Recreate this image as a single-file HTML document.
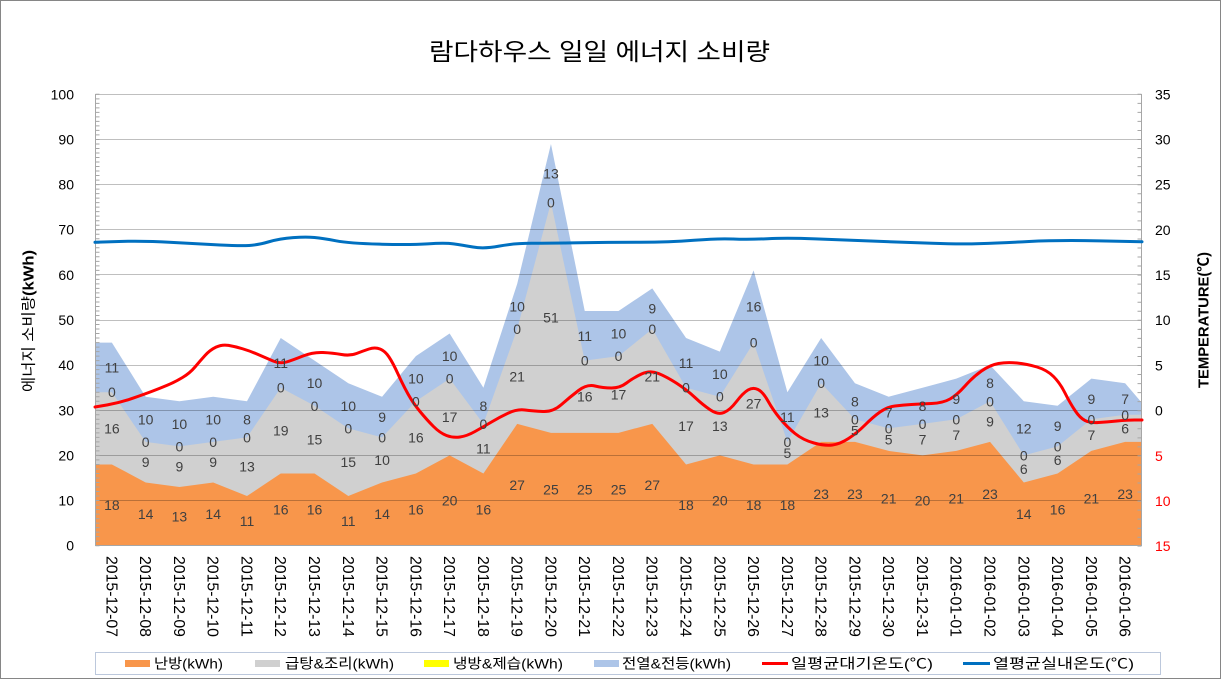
<!DOCTYPE html>
<html><head><meta charset="utf-8">
<style>
html,body{margin:0;padding:0;background:#fff;}
svg{display:block;}
text{font-family:"Liberation Sans","Noto Sans CJK KR",sans-serif;}
</style></head>
<body>
<svg width="1225" height="681" viewBox="0 0 1225 681" xmlns="http://www.w3.org/2000/svg">
<rect x="0" y="0" width="1225" height="681" fill="#fff"/>
<rect x="0.5" y="0.5" width="1220" height="678" fill="#fff" stroke="#868686" stroke-width="1"/>

<!-- title -->
<text x="429" y="60" font-size="24" fill="#000" textLength="341" lengthAdjust="spacingAndGlyphs">람다하우스 일일 에너지 소비량</text>

<!-- areas -->
<polygon fill="#adc5e8" points="95,545.7 95,342.57 111.89,342.57 145.66,396.74 179.44,401.25 213.21,396.74 246.99,401.25 280.76,338.06 314.54,360.63 348.31,383.20 382.09,396.74 415.86,356.11 449.64,333.54 483.41,387.71 517.19,283.89 550.96,143.95 584.74,311.00 618.51,311.00 652.29,288.40 686.06,338.06 719.84,351.60 753.61,270.35 787.39,392.22 821.16,338.06 854.94,383.20 888.71,396.74 922.49,387.71 956.26,378.68 990.04,365.14 1023.81,401.25 1057.59,405.77 1091.36,378.68 1125.14,383.20 1142,403 1142,545.7"/>
<polygon fill="#d0d0d0" points="95,545.7 95,392.22 111.89,392.22 145.66,441.88 179.44,446.39 213.21,441.88 246.99,437.36 280.76,387.71 314.54,405.77 348.31,428.34 382.09,437.36 415.86,401.25 449.64,378.68 483.41,423.82 517.19,329.03 550.96,202.64 584.74,360.63 618.51,356.11 652.29,329.03 686.06,387.71 719.84,396.74 753.61,342.57 787.39,441.88 821.16,383.20 854.94,419.31 888.71,428.34 922.49,423.82 956.26,419.31 990.04,401.25 1023.81,455.42 1057.59,446.39 1091.36,419.31 1125.14,414.79 1142,414.79 1142,545.7"/>
<polygon fill="#f8964b" points="95,545.7 95,464.45 111.89,464.45 145.66,482.50 179.44,487.02 213.21,482.50 246.99,496.05 280.76,473.48 314.54,473.48 348.31,496.05 382.09,482.50 415.86,473.48 449.64,455.42 483.41,473.48 517.19,423.82 550.96,432.85 584.74,432.85 618.51,432.85 652.29,423.82 686.06,464.45 719.84,455.42 753.61,464.45 787.39,464.45 821.16,441.88 854.94,441.88 888.71,450.91 922.49,455.42 956.26,450.91 990.04,441.88 1023.81,482.50 1057.59,473.48 1091.36,450.91 1125.14,441.88 1142,441.88 1142,545.7"/>

<!-- gridlines -->
<g stroke="rgba(0,0,0,0.25)" stroke-width="1">
<line x1="95" y1="94.5" x2="1142" y2="94.5"/>
<line x1="95" y1="139.5" x2="1142" y2="139.5"/>
<line x1="95" y1="184.5" x2="1142" y2="184.5"/>
<line x1="95" y1="229.5" x2="1142" y2="229.5"/>
<line x1="95" y1="274.5" x2="1142" y2="274.5"/>
<line x1="95" y1="320.5" x2="1142" y2="320.5"/>
<line x1="95" y1="365.5" x2="1142" y2="365.5"/>
<line x1="95" y1="410.5" x2="1142" y2="410.5"/>
<line x1="95" y1="455.5" x2="1142" y2="455.5"/>
<line x1="95" y1="500.5" x2="1142" y2="500.5"/>
</g>
<!-- axes -->
<g stroke="#a6a6a6" stroke-width="1">
<line x1="95.5" y1="94" x2="95.5" y2="546"/>
<line x1="1141.5" y1="94" x2="1141.5" y2="546"/>
<line x1="95" y1="545.5" x2="1142" y2="545.5"/>
</g>
<!-- minor ticks -->
<path d="M97.5,93.8 V546.3" stroke="#a6a6a6" stroke-width="4" stroke-dasharray="1 3.514" fill="none"/>
<path d="M1139.5,93.8 V546.6" stroke="#a6a6a6" stroke-width="4" stroke-dasharray="1 8.04" fill="none"/>

<!-- lines -->
<path fill="none" stroke="#0070c0" stroke-width="3" stroke-linejoin="round" stroke-linecap="round" d="M95,242.3 L119,241.5 Q143,240.7 171.5,242.35 Q200,244 220,245 Q240,246 249,245.5 Q258,245 269,241.75 Q280,238.5 293,237.6 Q306,236.7 314.5,237.5 Q323,238.3 336,240.8 Q349,243.3 379.5,244.15 Q410,245 427.5,243.85 Q445,242.7 453.5,243.85 Q462,245 473,247 Q484,249 499,246.15 Q514,243.3 531.5,243.3 Q549,243.3 579.5,242.8 Q610,242.3 640,242.3 Q670,242.3 694,240.3 Q718,238.3 733,239 Q748,239.7 767.5,238.7 Q787,237.7 815.5,238.85 Q844,240 874,241.15 Q904,242.3 932,243.3 Q960,244.3 980,243.65 Q1000,243 1029,241.5 Q1058,240 1100,240.85 L1142,241.7"/>
<path fill="none" stroke="#ff0000" stroke-width="3" stroke-linejoin="round" stroke-linecap="round" d="M95,407 L107.5,404.85 Q120,402.7 132.5,398.35 Q145,394 152.5,391.15 Q160,388.3 167.5,385.15 Q175,382 182.5,377.5 Q190,373 195,367 Q200,361 205,355.5 Q210,350 216,347.15 Q222,344.3 228.5,345.4 Q235,346.5 242.5,348.75 Q250,351 257.5,354.25 Q265,357.5 272.5,360.75 Q280,364 286.5,362 Q293,360 303,356 Q313,352 323,352.5 Q333,353 341.5,354.5 Q350,356 356.5,353.5 Q363,351 369,349 Q375,347 380,349 Q385,351 389,357 Q393,363 398,374 Q403,385 408,394 Q413,403 420,411.5 Q427,420 433.5,426.5 Q440,433 446.5,435.5 Q453,438 460,437 Q467,436 475,431.5 Q483,427 491.5,422 Q500,417 508.5,413 Q517,409 525,410 Q533,411 543,411.5 Q553,412 561.5,404.5 Q570,397 578.5,390.5 Q587,384 595,386 Q603,388 611.5,388 Q620,388 626.5,383 Q633,378 641.5,374 Q650,370 658.5,373.5 Q667,377 677,383.5 Q687,390 695,397.5 Q703,405 710.5,410 Q718,415 724,412.5 Q730,410 736.5,401.5 Q743,393 748,390 Q753,387 758,389.5 Q763,392 768,401 Q773,410 780,418.5 Q787,427 795,433.5 Q803,440 814,443 Q825,446 832.5,445 Q840,444 848.5,438.5 Q857,433 865,425 Q873,417 880,412 Q887,407 895,406 Q903,405 911.5,404.5 Q920,404 931.5,403.5 Q943,403 950,399 Q957,395 965,386 Q973,377 981.5,371 Q990,365 998.5,363.5 Q1007,362 1017,363 Q1027,364 1037,367 Q1047,370 1053.5,376.5 Q1060,383 1065,393 Q1070,403 1075,410.5 Q1080,418 1085,420.5 Q1090,423 1098.5,422.5 Q1107,422 1117,421 Q1127,420 1134.5,420 L1142,420"/>

<!-- data labels -->
<g font-size="14" fill="#404040" text-anchor="middle">
<text x="111.89" y="510.07">18</text><text x="111.89" y="433.34">16</text><text x="111.89" y="397.22">0</text><text x="111.89" y="372.40">11</text>
<text x="145.66" y="519.10">14</text><text x="145.66" y="467.19">9</text><text x="145.66" y="446.88">0</text><text x="145.66" y="424.31">10</text>
<text x="179.44" y="521.36">13</text><text x="179.44" y="471.70">9</text><text x="179.44" y="451.39">0</text><text x="179.44" y="428.82">10</text>
<text x="213.21" y="519.10">14</text><text x="213.21" y="467.19">9</text><text x="213.21" y="446.88">0</text><text x="213.21" y="424.31">10</text>
<text x="246.99" y="525.87">11</text><text x="246.99" y="471.70">13</text><text x="246.99" y="442.36">0</text><text x="246.99" y="424.31">8</text>
<text x="280.76" y="514.59">16</text><text x="280.76" y="435.59">19</text><text x="280.76" y="392.71">0</text><text x="280.76" y="367.88">11</text>
<text x="314.54" y="514.59">16</text><text x="314.54" y="444.62">15</text><text x="314.54" y="410.77">0</text><text x="314.54" y="388.20">10</text>
<text x="348.31" y="525.87">11</text><text x="348.31" y="467.19">15</text><text x="348.31" y="433.34">0</text><text x="348.31" y="410.77">10</text>
<text x="382.09" y="519.10">14</text><text x="382.09" y="464.93">10</text><text x="382.09" y="442.36">0</text><text x="382.09" y="422.05">9</text>
<text x="415.86" y="514.59">16</text><text x="415.86" y="442.36">16</text><text x="415.86" y="406.25">0</text><text x="415.86" y="383.68">10</text>
<text x="449.64" y="505.56">20</text><text x="449.64" y="422.05">17</text><text x="449.64" y="383.68">0</text><text x="449.64" y="361.11">10</text>
<text x="483.41" y="514.59">16</text><text x="483.41" y="453.65">11</text><text x="483.41" y="428.82">0</text><text x="483.41" y="410.77">8</text>
<text x="517.19" y="489.76">27</text><text x="517.19" y="381.43">21</text><text x="517.19" y="334.03">0</text><text x="517.19" y="311.46">10</text>
<text x="550.96" y="494.28">25</text><text x="550.96" y="322.74">51</text><text x="550.96" y="207.64">0</text><text x="550.96" y="178.29">13</text>
<text x="584.74" y="494.28">25</text><text x="584.74" y="401.74">16</text><text x="584.74" y="365.63">0</text><text x="584.74" y="340.80">11</text>
<text x="618.51" y="494.28">25</text><text x="618.51" y="399.48">17</text><text x="618.51" y="361.11">0</text><text x="618.51" y="338.54">10</text>
<text x="652.29" y="489.76">27</text><text x="652.29" y="381.43">21</text><text x="652.29" y="334.03">0</text><text x="652.29" y="313.72">9</text>
<text x="686.06" y="510.07">18</text><text x="686.06" y="431.08">17</text><text x="686.06" y="392.71">0</text><text x="686.06" y="367.88">11</text>
<text x="719.84" y="505.56">20</text><text x="719.84" y="431.08">13</text><text x="719.84" y="401.74">0</text><text x="719.84" y="379.17">10</text>
<text x="753.61" y="510.07">18</text><text x="753.61" y="408.51">27</text><text x="753.61" y="347.57">0</text><text x="753.61" y="311.46">16</text>
<text x="787.39" y="510.07">18</text><text x="787.39" y="458.16">5</text><text x="787.39" y="446.88">0</text><text x="787.39" y="422.05">11</text>
<text x="821.16" y="498.79">23</text><text x="821.16" y="417.54">13</text><text x="821.16" y="388.20">0</text><text x="821.16" y="365.63">10</text>
<text x="854.94" y="498.79">23</text><text x="854.94" y="435.59">5</text><text x="854.94" y="424.31">0</text><text x="854.94" y="406.25">8</text>
<text x="888.71" y="503.30">21</text><text x="888.71" y="444.62">5</text><text x="888.71" y="433.34">0</text><text x="888.71" y="417.54">7</text>
<text x="922.49" y="505.56">20</text><text x="922.49" y="444.62">7</text><text x="922.49" y="428.82">0</text><text x="922.49" y="410.77">8</text>
<text x="956.26" y="503.30">21</text><text x="956.26" y="440.11">7</text><text x="956.26" y="424.31">0</text><text x="956.26" y="404.00">9</text>
<text x="990.04" y="498.79">23</text><text x="990.04" y="426.57">9</text><text x="990.04" y="406.25">0</text><text x="990.04" y="388.20">8</text>
<text x="1023.81" y="519.10">14</text><text x="1023.81" y="473.96">6</text><text x="1023.81" y="460.42">0</text><text x="1023.81" y="433.34">12</text>
<text x="1057.59" y="514.59">16</text><text x="1057.59" y="464.93">6</text><text x="1057.59" y="451.39">0</text><text x="1057.59" y="431.08">9</text>
<text x="1091.36" y="503.30">21</text><text x="1091.36" y="440.11">7</text><text x="1091.36" y="424.31">0</text><text x="1091.36" y="404.00">9</text>
<text x="1125.14" y="498.79">23</text><text x="1125.14" y="433.34">6</text><text x="1125.14" y="419.80">0</text><text x="1125.14" y="404.00">7</text>
</g>

<!-- left axis labels -->
<g font-size="14" fill="#000" text-anchor="end">
<text x="74" y="550.7">0</text>
<text x="74" y="505.6">10</text>
<text x="74" y="460.4">20</text>
<text x="74" y="415.3">30</text>
<text x="74" y="370.1">40</text>
<text x="74" y="325">50</text>
<text x="74" y="279.9">60</text>
<text x="74" y="234.7">70</text>
<text x="74" y="189.6">80</text>
<text x="74" y="144.4">90</text>
<text x="74" y="99.3">100</text>
</g>
<!-- right axis labels -->
<g font-size="14" text-anchor="start">
<text x="1155" y="99.3" fill="#000">35</text>
<text x="1155" y="144.5" fill="#000">30</text>
<text x="1155" y="189.7" fill="#000">25</text>
<text x="1155" y="234.9" fill="#000">20</text>
<text x="1155" y="280.1" fill="#000">15</text>
<text x="1155" y="325.2" fill="#000">10</text>
<text x="1155" y="370.4" fill="#000">5</text>
<text x="1155" y="415.6" fill="#000">0</text>
<text x="1155" y="460.8" fill="#ff0000">5</text>
<text x="1155" y="506" fill="#ff0000">10</text>
<text x="1155" y="551.2" fill="#ff0000">15</text>
</g>

<!-- axis titles -->
<text transform="translate(33.5,321) rotate(-90)" text-anchor="middle" font-size="15" fill="#000" textLength="142" lengthAdjust="spacingAndGlyphs">에너지 소비량<tspan font-weight="bold">(kWh)</tspan></text>
<text transform="translate(1208.5,320) rotate(-90)" text-anchor="middle" font-size="15" font-weight="bold" fill="#000" textLength="136" lengthAdjust="spacingAndGlyphs">TEMPERATURE(℃)</text>

<!-- x labels -->
<g font-size="15.5" fill="#000">
<text transform="translate(106.34,556) rotate(90)" textLength="81" lengthAdjust="spacingAndGlyphs">2015-12-07</text>
<text transform="translate(140.11,556) rotate(90)" textLength="81" lengthAdjust="spacingAndGlyphs">2015-12-08</text>
<text transform="translate(173.89,556) rotate(90)" textLength="81" lengthAdjust="spacingAndGlyphs">2015-12-09</text>
<text transform="translate(207.66,556) rotate(90)" textLength="81" lengthAdjust="spacingAndGlyphs">2015-12-10</text>
<text transform="translate(241.44,556) rotate(90)" textLength="81" lengthAdjust="spacingAndGlyphs">2015-12-11</text>
<text transform="translate(275.21,556) rotate(90)" textLength="81" lengthAdjust="spacingAndGlyphs">2015-12-12</text>
<text transform="translate(308.99,556) rotate(90)" textLength="81" lengthAdjust="spacingAndGlyphs">2015-12-13</text>
<text transform="translate(342.76,556) rotate(90)" textLength="81" lengthAdjust="spacingAndGlyphs">2015-12-14</text>
<text transform="translate(376.54,556) rotate(90)" textLength="81" lengthAdjust="spacingAndGlyphs">2015-12-15</text>
<text transform="translate(410.31,556) rotate(90)" textLength="81" lengthAdjust="spacingAndGlyphs">2015-12-16</text>
<text transform="translate(444.09,556) rotate(90)" textLength="81" lengthAdjust="spacingAndGlyphs">2015-12-17</text>
<text transform="translate(477.86,556) rotate(90)" textLength="81" lengthAdjust="spacingAndGlyphs">2015-12-18</text>
<text transform="translate(511.64,556) rotate(90)" textLength="81" lengthAdjust="spacingAndGlyphs">2015-12-19</text>
<text transform="translate(545.41,556) rotate(90)" textLength="81" lengthAdjust="spacingAndGlyphs">2015-12-20</text>
<text transform="translate(579.19,556) rotate(90)" textLength="81" lengthAdjust="spacingAndGlyphs">2015-12-21</text>
<text transform="translate(612.96,556) rotate(90)" textLength="81" lengthAdjust="spacingAndGlyphs">2015-12-22</text>
<text transform="translate(646.74,556) rotate(90)" textLength="81" lengthAdjust="spacingAndGlyphs">2015-12-23</text>
<text transform="translate(680.51,556) rotate(90)" textLength="81" lengthAdjust="spacingAndGlyphs">2015-12-24</text>
<text transform="translate(714.29,556) rotate(90)" textLength="81" lengthAdjust="spacingAndGlyphs">2015-12-25</text>
<text transform="translate(748.06,556) rotate(90)" textLength="81" lengthAdjust="spacingAndGlyphs">2015-12-26</text>
<text transform="translate(781.84,556) rotate(90)" textLength="81" lengthAdjust="spacingAndGlyphs">2015-12-27</text>
<text transform="translate(815.61,556) rotate(90)" textLength="81" lengthAdjust="spacingAndGlyphs">2015-12-28</text>
<text transform="translate(849.39,556) rotate(90)" textLength="81" lengthAdjust="spacingAndGlyphs">2015-12-29</text>
<text transform="translate(883.16,556) rotate(90)" textLength="81" lengthAdjust="spacingAndGlyphs">2015-12-30</text>
<text transform="translate(916.94,556) rotate(90)" textLength="81" lengthAdjust="spacingAndGlyphs">2015-12-31</text>
<text transform="translate(950.71,556) rotate(90)" textLength="81" lengthAdjust="spacingAndGlyphs">2016-01-01</text>
<text transform="translate(984.49,556) rotate(90)" textLength="81" lengthAdjust="spacingAndGlyphs">2016-01-02</text>
<text transform="translate(1018.26,556) rotate(90)" textLength="81" lengthAdjust="spacingAndGlyphs">2016-01-03</text>
<text transform="translate(1052.04,556) rotate(90)" textLength="81" lengthAdjust="spacingAndGlyphs">2016-01-04</text>
<text transform="translate(1085.81,556) rotate(90)" textLength="81" lengthAdjust="spacingAndGlyphs">2016-01-05</text>
<text transform="translate(1119.59,556) rotate(90)" textLength="81" lengthAdjust="spacingAndGlyphs">2016-01-06</text>
</g>

<!-- legend -->
<rect x="95.5" y="652.5" width="1065" height="22" fill="#fff" stroke="#bcc8dc" stroke-width="1"/>
<rect x="125" y="660" width="25" height="7" fill="#f8964b"/>
<rect x="255" y="660" width="25" height="7" fill="#d0d0d0"/>
<rect x="424" y="660" width="25" height="7" fill="#ffff00"/>
<rect x="594" y="660" width="25" height="7" fill="#adc5e8"/>
<line x1="762" y1="663.5" x2="788" y2="663.5" stroke="#ff0000" stroke-width="3"/>
<line x1="963" y1="663.5" x2="990" y2="663.5" stroke="#0070c0" stroke-width="3"/>
<g font-size="14" fill="#000">
<text x="154" y="668.5" textLength="69" lengthAdjust="spacingAndGlyphs">난방(kWh)</text>
<text x="285" y="668.5" textLength="109" lengthAdjust="spacingAndGlyphs">급탕&amp;조리(kWh)</text>
<text x="453" y="668.5" textLength="110" lengthAdjust="spacingAndGlyphs">냉방&amp;제습(kWh)</text>
<text x="622" y="668.5" textLength="109" lengthAdjust="spacingAndGlyphs">전열&amp;전등(kWh)</text>
<text x="791" y="668.5" textLength="142" lengthAdjust="spacingAndGlyphs">일평균대기온도(℃)</text>
<text x="993" y="668.5" textLength="141" lengthAdjust="spacingAndGlyphs">열평균실내온도(℃)</text>
</g>
</svg>
</body></html>
